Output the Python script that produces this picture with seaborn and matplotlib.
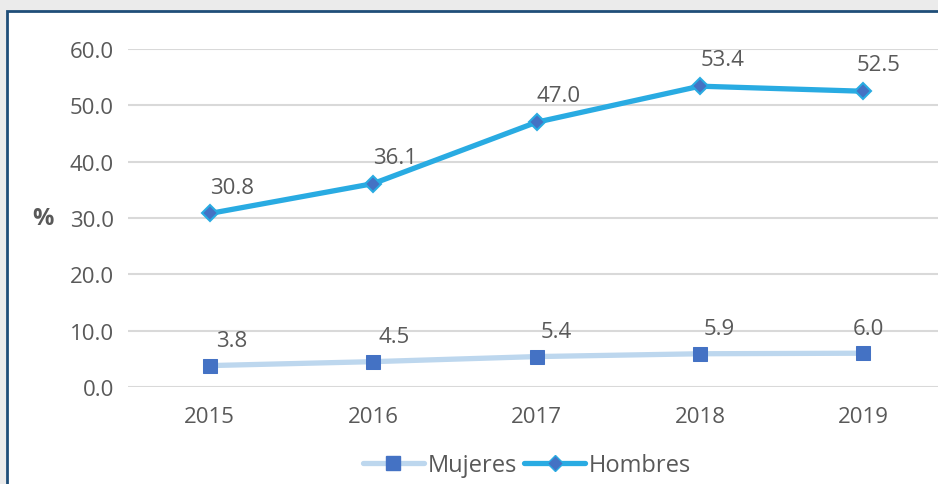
import matplotlib
matplotlib.use("Agg")
import matplotlib.pyplot as plt
from matplotlib.patches import Rectangle
from matplotlib.lines import Line2D
import seaborn as sns
import pandas as pd

years = ["2015", "2016", "2017", "2018", "2019"]
mujeres = [3.8, 4.5, 5.4, 5.9, 6.0]
hombres = [30.8, 36.1, 47.0, 53.4, 52.5]
y_ticks = [0, 10, 20, 30, 40, 50, 60]

sns.set_theme(style="white")
plt.rcParams["font.family"] = ["Open Sans", "DejaVu Sans"]

TEXT = "#595959"
C_MUJ_LINE = "#bdd7ee"
C_HOM_LINE = "#29abe2"
C_MARK = "#4472c4"
FS = 16

df = pd.DataFrame({
    "anio": years * 2,
    "valor": mujeres + hombres,
    "serie": ["Mujeres"] * len(years) + ["Hombres"] * len(years),
})

fig = plt.figure(figsize=(9.38, 4.85), dpi=100)
fig.patch.set_facecolor("#ebebeb")
# white panel with dark blue frame
fig.patches.append(Rectangle((7 / 938, -0.05), 1.0, 1 - 12 / 485 + 0.05,
                             transform=fig.transFigure, facecolor="white",
                             edgecolor="#1f4e79", linewidth=2, zorder=-10))

ax = fig.add_axes([128 / 938, 1 - 388 / 485, (945 - 128) / 938, (388 - 50) / 485])
ax.set_facecolor("none")

sns.lineplot(data=df[df.serie == "Mujeres"], x="anio", y="valor", ax=ax,
             color=C_MUJ_LINE, linewidth=3.8, marker="s", markersize=10,
             markerfacecolor=C_MARK, markeredgecolor=C_MARK, sort=False,
             legend=False, zorder=3)
sns.lineplot(data=df[df.serie == "Hombres"], x="anio", y="valor", ax=ax,
             color=C_HOM_LINE, linewidth=3.8, marker="D", markersize=8,
             markerfacecolor=C_MARK, markeredgecolor=C_HOM_LINE,
             markeredgewidth=1.5, sort=False, legend=False, zorder=4)

ax.set_xlim(-0.5, 4.5)
ax.set_ylim(0, 60)
ax.set_yticks(y_ticks)
ax.set_yticklabels([f"{v:.1f}" for v in y_ticks])
ax.yaxis.grid(True, color="#d9d9d9", linewidth=1.5)
ax.set_axisbelow(True)
for s in ax.spines.values():
    s.set_visible(False)
ax.tick_params(axis="y", length=0, pad=10, labelsize=FS, labelcolor=TEXT)
ax.tick_params(axis="x", length=0, pad=14, labelsize=FS, labelcolor=TEXT)
ax.set_xlabel("")
ax.set_ylabel("%", rotation=0, fontsize=17, fontweight="bold", color=TEXT,
              va="center", ha="center")
ax.yaxis.set_label_coords((43 - 128) / (945 - 128), 0.5)

# value labels
dx_h = [16, 16, 16, 16, 11]
dx_m = [16, 15, 14, 14, 4]
for i, v in enumerate(hombres):
    ax.annotate(f"{v:.1f}", (i, v), xytext=(dx_h[i], 19), textcoords="offset points",
                ha="center", va="center", fontsize=FS, color=TEXT)
for i, v in enumerate(mujeres):
    ax.annotate(f"{v:.1f}", (i, v), xytext=(dx_m[i], 18), textcoords="offset points",
                ha="center", va="center", fontsize=FS, color=TEXT)

handles = [
    Line2D([], [], color=C_MUJ_LINE, linewidth=3.8, marker="s", markersize=10,
           markerfacecolor=C_MARK, markeredgecolor=C_MARK),
    Line2D([], [], color=C_HOM_LINE, linewidth=3.8, marker="D", markersize=8,
           markerfacecolor=C_MARK, markeredgecolor=C_HOM_LINE),
]
fig.legend(handles, ["Mujeres", "Hombres"], loc="center",
           bbox_to_anchor=(527 / 938, 1 - 466 / 485), ncol=2, frameon=False,
           fontsize=17, labelcolor=TEXT, handlelength=2.6, handletextpad=0.15,
           columnspacing=0.3)

fig.savefig("out.png", dpi=100, facecolor=fig.get_facecolor())
